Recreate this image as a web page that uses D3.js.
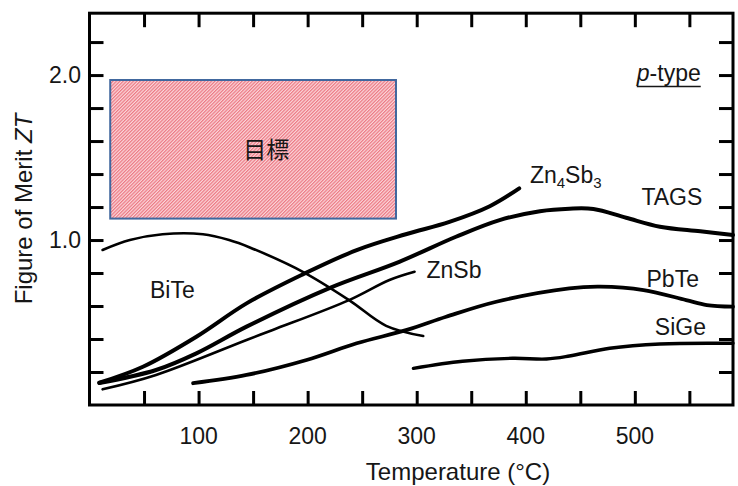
<!DOCTYPE html>
<html>
<head>
<meta charset="utf-8">
<script src="https://cdn.jsdelivr.net/npm/d3@7"></script>
<style>
  html, body { margin: 0; padding: 0; background: #fff; }
  svg { display: block; }
  text { font-family: "Liberation Sans", Arial, sans-serif; fill: #161616; }
</style>
</head>
<body>
<svg id="chart" width="738" height="486"></svg>
<script>
// ZT vs temperature for p-type thermoelectric materials, [°C, ZT]
const biTe   = [[12, 0.94], [37, 1.00], [67, 1.035], [104, 1.035], [128, 1.00], [147, 0.955], [196, 0.806], [238, 0.636], [272, 0.48], [306, 0.418]];
const zn4Sb3 = [[9, 0.135], [49, 0.232], [98, 0.414], [144, 0.616], [195, 0.79], [245, 0.939], [290, 1.035], [330, 1.11], [367, 1.205], [394, 1.313]];
const tags   = [[9, 0.133], [61, 0.212], [98, 0.313], [144, 0.475], [220, 0.709], [284, 0.868], [336, 1.02], [376, 1.121], [413, 1.175], [440, 1.19], [462, 1.188], [492, 1.135], [523, 1.081], [560, 1.053], [590, 1.03]];
const znSb   = [[12, 0.095], [61, 0.182], [144, 0.394], [168, 0.455], [238, 0.636], [275, 0.758], [298, 0.808]];
const pbTe   = [[95, 0.132], [144, 0.182], [199, 0.273], [245, 0.374], [291, 0.455], [327, 0.535], [373, 0.626], [440, 0.707], [468, 0.717], [508, 0.697], [547, 0.636], [566, 0.606], [590, 0.596]];
const siGe   = [[297, 0.222], [342, 0.265], [388, 0.283], [419, 0.279], [440, 0.297], [477, 0.344], [523, 0.37], [590, 0.374]];

// target region (目標)
const targetT  = [19, 281];
const targetZT = [1.13, 1.97];

// axes
const tempDomain = [0, 590];
const ztDomain   = [0, 2.375];
const tempTicks  = [50, 100, 150, 200, 250, 300, 350, 400, 450, 500, 550];
const tempLabels = [100, 200, 300, 400, 500];
const ztTicks    = [0.2, 0.4, 0.6, 0.8, 1.0, 1.2, 1.4, 1.6, 1.8, 2.0, 2.2];
const ztLabels   = [1.0, 2.0];

const svg = d3.select("#chart");
const plotL = 89.5, plotR = 733, plotT = 13.2, plotB = 405;
const x = d3.scaleLinear().domain(tempDomain).range([plotL, plotR]);
const y = d3.scaleLinear().domain(ztDomain).range([plotB, plotT]);

// fine diagonal hatch for the target box
const defs = svg.append("defs");
const pat = defs.append("pattern")
  .attr("id", "hatch").attr("patternUnits", "userSpaceOnUse")
  .attr("width", 2.4).attr("height", 2.4)
  .attr("patternTransform", "rotate(45)");
pat.append("rect").attr("width", 2.4).attr("height", 2.4).attr("fill", "#fbd6da");
pat.append("rect").attr("width", 1.2).attr("height", 2.4).attr("fill", "#ec7883");

svg.append("rect")
  .attr("x", x(targetT[0])).attr("y", y(targetZT[1]))
  .attr("width", x(targetT[1]) - x(targetT[0]))
  .attr("height", y(targetZT[0]) - y(targetZT[1]))
  .attr("fill", "url(#hatch)")
  .attr("stroke", "#40679e").attr("stroke-width", 2);

svg.append("text")
  .attr("x", x(141)).attr("y", y(1.497))
  .style("font-family", "'Noto Sans CJK JP', sans-serif")
  .style("font-size", "23px")
  .text("目標");

// curves
const line = d3.line().x(d => x(d[0])).y(d => y(d[1])).curve(d3.curveCatmullRom.alpha(0.5));
const series = [
  { data: biTe,   w: 2.6 },
  { data: zn4Sb3, w: 4 },
  { data: tags,   w: 4 },
  { data: znSb,   w: 2.6 },
  { data: pbTe,   w: 3.8 },
  { data: siGe,   w: 3.4 }
];
svg.append("g").selectAll("path").data(series).join("path")
  .attr("d", d => line(d.data))
  .attr("fill", "none").attr("stroke", "#000")
  .attr("stroke-width", d => d.w)
  .attr("stroke-linecap", "round").attr("stroke-linejoin", "round");

// frame with inward ticks on all four sides
const tickLen = 14;
const axG = svg.append("g");
axG.append("g").attr("transform", `translate(0,${plotB})`)
  .call(d3.axisTop(x).tickValues(tempTicks).tickSize(tickLen).tickFormat(""));
axG.append("g").attr("transform", `translate(0,${plotT})`)
  .call(d3.axisBottom(x).tickValues(tempTicks).tickSize(tickLen).tickFormat(""));
axG.append("g").attr("transform", `translate(${plotL},0)`)
  .call(d3.axisRight(y).tickValues(ztTicks).tickSize(tickLen).tickFormat(""));
axG.append("g").attr("transform", `translate(${plotR},0)`)
  .call(d3.axisLeft(y).tickValues(ztTicks).tickSize(tickLen).tickFormat(""));
axG.selectAll(".domain").remove();
axG.selectAll("line").attr("stroke", "#000").attr("stroke-width", 3);
svg.append("rect")
  .attr("x", plotL).attr("y", plotT)
  .attr("width", plotR - plotL).attr("height", plotB - plotT)
  .attr("fill", "none").attr("stroke", "#000").attr("stroke-width", 3);

// tick labels
svg.append("g").selectAll("text").data(tempLabels).join("text")
  .attr("x", d => x(d)).attr("y", 444)
  .attr("text-anchor", "middle").style("font-size", "23px")
  .text(d => d);
svg.append("g").selectAll("text").data(ztLabels).join("text")
  .attr("x", 81).attr("y", d => y(d)).attr("dy", "0.35em")
  .attr("text-anchor", "end").style("font-size", "23px")
  .text(d => d.toFixed(1));

// axis titles
svg.append("text")
  .attr("x", 458).attr("y", 480)
  .attr("text-anchor", "middle").style("font-size", "24px")
  .text("Temperature (°C)");
const yt = svg.append("text")
  .attr("transform", "translate(32,209) rotate(-90)")
  .attr("text-anchor", "middle").style("font-size", "24px");
yt.append("tspan").text("Figure of Merit ");
yt.append("tspan").style("font-style", "italic").text("ZT");

// series labels
const lab = (t, zt, txt) => svg.append("text")
  .attr("x", x(t)).attr("y", y(zt)).style("font-size", "23px").text(txt);
lab(55.5, 0.648, "BiTe");
lab(309, 0.77, "ZnSb");
lab(506, 1.212, "TAGS");
lab(510.7, 0.718, "PbTe");
lab(518.3, 0.424, "SiGe");

const zs = svg.append("text").attr("x", x(403.8)).attr("y", y(1.345)).style("font-size", "23px");
zs.append("tspan").text("Zn");
zs.append("tspan").attr("dy", 5).style("font-size", "15px").text("4");
zs.append("tspan").attr("dy", -5).text("Sb");
zs.append("tspan").attr("dy", 5).style("font-size", "15px").text("3");

// p-type marker, underlined
const pt = svg.append("text").attr("x", x(501.8)).attr("y", y(1.964)).style("font-size", "23px");
pt.append("tspan").style("font-style", "italic").text("p");
pt.append("tspan").text("-type");
const ptLen = pt.node().getComputedTextLength();
svg.append("line")
  .attr("x1", x(501.8)).attr("x2", x(501.8) + ptLen)
  .attr("y1", y(1.964) + 5.5).attr("y2", y(1.964) + 5.5)
  .attr("stroke", "#161616").attr("stroke-width", 1.6);
</script>
</body>
</html>
